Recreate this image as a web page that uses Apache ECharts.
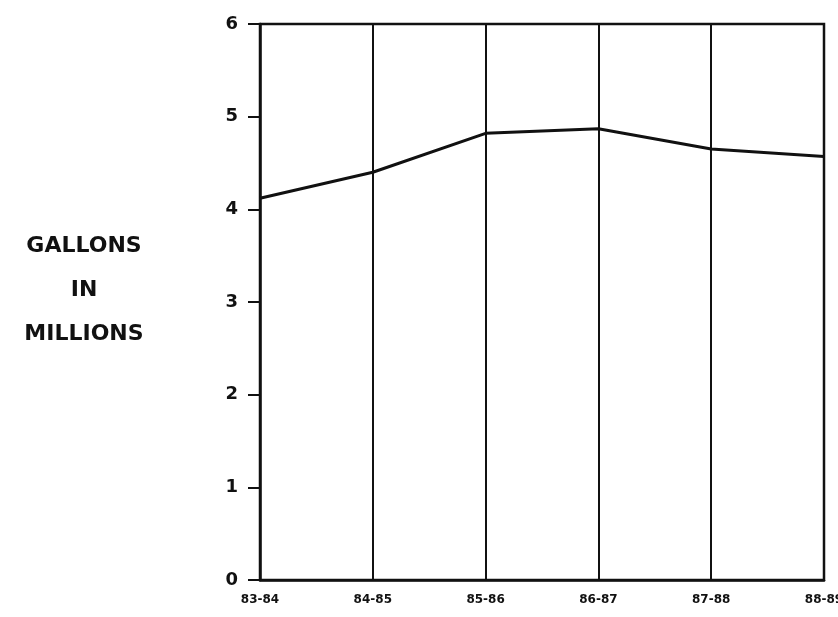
<!DOCTYPE html>
<html>
<head>
<meta charset="utf-8">
<script src="https://cdn.jsdelivr.net/npm/echarts@6/dist/echarts.min.js"></script>
<style>html,body{margin:0;padding:0;background:#fff;}#c{width:838px;height:617px;}</style>
</head>
<body>
<div id="c"></div>
<script>
const categories = ['83-84', '84-85', '85-86', '86-87', '87-88', '88-89'];
const gallonsMillions = [4.12, 4.40, 4.82, 4.87, 4.65, 4.57];
const yTickLabels = {0: '0', 1: '1', 2: '2', 3: '3', 4: '4', 5: '5', 6: '6'};
const yTitleLines = ['GALLONS', 'IN', 'MILLIONS'];

const chart = echarts.init(document.getElementById('c'), null, {renderer: 'canvas'});
const font = '"DejaVu Sans", "Liberation Sans", sans-serif';
chart.setOption({
  backgroundColor: '#fff',
  animation: false,
  grid: {left: 260, right: 14, top: 24, bottom: 37, show: true, borderColor: '#111', borderWidth: 2.5,
    backgroundColor: 'transparent', outerBoundsMode: 'none', containLabel: false},
  xAxis: {
    type: 'category', data: categories, boundaryGap: false,
    axisLine: {lineStyle: {color: '#111', width: 2.5}},
    axisTick: {show: false},
    splitLine: {show: true, lineStyle: {color: '#111', width: 2}},
    axisLabel: {color: '#111', fontFamily: font, fontWeight: 'bold', fontSize: 12, margin: 14, interval: 0}
  },
  yAxis: {
    type: 'value', min: 0, max: 6, interval: 1,
    axisLine: {show: true, lineStyle: {color: '#111', width: 2.5}},
    axisTick: {show: true, length: 12, lineStyle: {color: '#111', width: 2}},
    splitLine: {show: false},
    axisLabel: {color: '#111', fontFamily: font, fontWeight: 'bold', fontSize: 18, margin: 22,
      formatter: v => yTickLabels[v]}
  },
  graphic: [{
    type: 'text', x: 84, y: 290,
    style: {text: yTitleLines.join('\n'), textAlign: 'center', textVerticalAlign: 'middle', fill: '#111',
      font: 'bold 22px ' + font, lineHeight: 44}
  }],
  series: [{
    type: 'line', data: gallonsMillions, symbol: 'none',
    lineStyle: {color: '#111', width: 3}
  }]
});
</script>
</body>
</html>
